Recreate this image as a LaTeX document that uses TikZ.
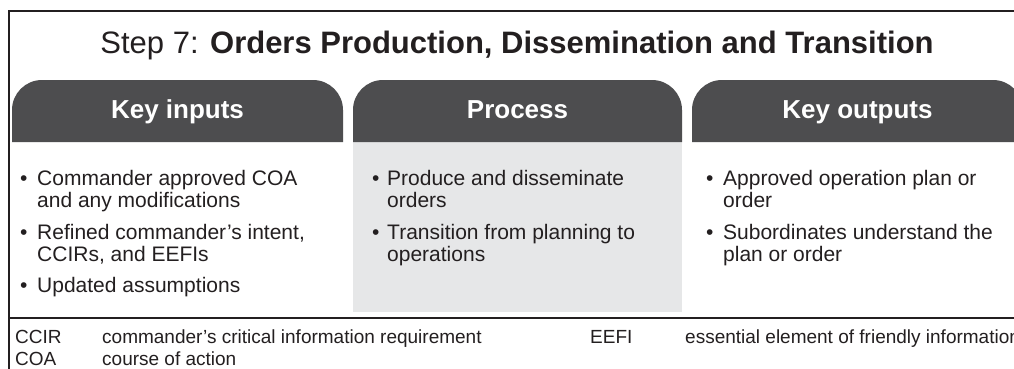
\documentclass[tikz,border=0pt]{standalone}
\usepackage{fontspec}
\setmainfont{Liberation Sans}
\definecolor{hdrgray}{HTML}{4D4D4F}
\definecolor{procgray}{HTML}{E6E7E8}
\definecolor{framecol}{HTML}{231F20}
\tikzset{
  frameline/.style={draw=framecol, line width=2.4pt},
  hdrshape/.style={fill=hdrgray},
  hdrtext/.style={anchor=base, inner sep=0pt, text=white, font=\fontsize{26}{31}\selectfont\bfseries},
  bodytext/.style={anchor=base west, inner sep=0pt, text=framecol, font=\fontsize{21}{25}\selectfont},
  foottext/.style={anchor=base west, inner sep=0pt, text=framecol, font=\fontsize{19}{23}\selectfont},
}
\begin{document}
\begin{tikzpicture}[x=1pt,y=1pt]
\useasboundingbox (0,0) rectangle (1014,-369);
\fill[white] (0,0) rectangle (1014,-369);
% frame
\draw[frameline] (1020,-11) -- (9,-11) -- (9,-375);
\draw[frameline] (9,-318) -- (1020,-318);
% title
\node[anchor=base, inner sep=0pt, text=framecol, font=\fontsize{31}{37}\selectfont] (title) at (517,-53) {Step 7: \textbf{Orders Production, Dissemination and Transition}};
% process body
\fill[procgray] (353,-142) rectangle (682,-312);
% headers
\fill[hdrshape] (12,-142) -- (12,-110) arc[start angle=180,end angle=90,radius=30] -- (313,-80) arc[start angle=90,end angle=0,radius=30] -- (343,-142) -- cycle;
\fill[hdrshape] (353,-142) -- (353,-110) arc[start angle=180,end angle=90,radius=30] -- (652,-80) arc[start angle=90,end angle=0,radius=30] -- (682,-142) -- cycle;
\fill[hdrshape] (692,-142) -- (692,-110) arc[start angle=180,end angle=90,radius=30] -- (993,-80) arc[start angle=90,end angle=0,radius=30] -- (1023,-142) -- cycle;
\node[hdrtext] (h1) at (177.5,-118) {Key inputs};
\node[hdrtext] (h2) at (517.5,-118) {Process};
\node[hdrtext] (h3) at (857.5,-118) {Key outputs};
% key inputs
\node[bodytext] (b1) at (20,-185) {•};
\node[bodytext] (i1a) at (37,-185) {Commander approved COA};
\node[bodytext] (i1b) at (37,-207) {and any modifications};
\node[bodytext] (b2) at (20,-239) {•};
\node[bodytext] (i2a) at (37,-239) {Refined commander’s intent,};
\node[bodytext] (i2b) at (37,-261) {CCIRs, and EEFIs};
\node[bodytext] (b3) at (20,-292) {•};
\node[bodytext] (i3a) at (37,-292) {Updated assumptions};
% process
\node[bodytext] (b4) at (372,-185) {•};
\node[bodytext] (p1a) at (387,-185) {Produce and disseminate};
\node[bodytext] (p1b) at (387,-207) {orders};
\node[bodytext] (b5) at (372,-239) {•};
\node[bodytext] (p2a) at (387,-239) {Transition from planning to};
\node[bodytext] (p2b) at (387,-261) {operations};
% outputs
\node[bodytext] (b6) at (706,-185) {•};
\node[bodytext] (o1a) at (723,-185) {Approved operation plan or};
\node[bodytext] (o1b) at (723,-207) {order};
\node[bodytext] (b7) at (706,-239) {•};
\node[bodytext] (o2a) at (723,-239) {Subordinates understand the};
\node[bodytext] (o2b) at (723,-261) {plan or order};
% footer
\node[foottext] (f1) at (15,-343) {CCIR};
\node[foottext] (f1d) at (102,-343) {commander’s critical information requirement};
\node[foottext] (f2) at (15,-365) {COA};
\node[foottext] (f2d) at (102,-365) {course of action};
\node[foottext] (f3) at (590,-343) {EEFI};
\node[foottext] (f3d) at (685,-343) {essential element of friendly information};
\end{tikzpicture}
\end{document}
